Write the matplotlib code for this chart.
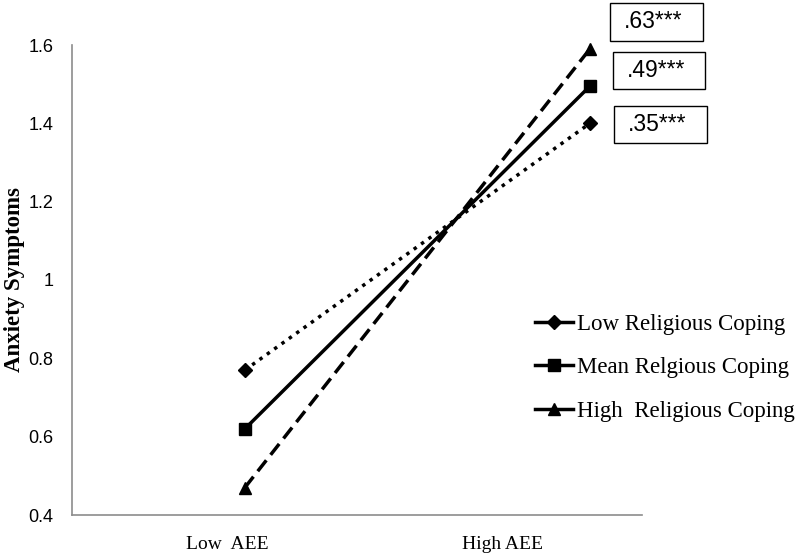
import matplotlib
matplotlib.use("Agg")
import matplotlib.pyplot as plt
from matplotlib.lines import Line2D
from matplotlib.patches import Rectangle

conditions = ["Low  AEE", "High AEE"]
series_names = ["Low Religious Coping", "Mean Relgious Coping", "High  Religious Coping"]
low_rc = [0.77, 1.40]
mean_rc = [0.62, 1.495]
high_rc = [0.47, 1.59]
slope_labels = [".63***", ".49***", ".35***"]
y_ticks = [0.4, 0.6, 0.8, 1.0, 1.2, 1.4, 1.6]
y_tick_labels = ["0.4", "0.6", "0.8", "1", "1.2", "1.4", "1.6"]

W, H = 800, 558
fig = plt.figure(figsize=(8, 5.58), dpi=100)
ax = fig.add_axes([72 / W, 1 - 515 / H, 570 / W, 470 / H])

x = [0, 1]
styles = [(low_rc, ":", "D", 7), (mean_rc, "-", "s", 9), (high_rc, "--", "^", 9)]
for vals, ls, mk, ms in styles:
    ax.plot(x, vals, color="black", linestyle=ls, linewidth=2.5, marker=mk,
            markersize=ms, markerfacecolor="black", markeredgecolor="black",
            dashes=(4, 2) if ls == "--" else ((1, 1.6) if ls == ":" else ()), clip_on=False)

ax.set_xlim(-0.501, 1.151)
ax.set_ylim(0.4, 1.6)
ax.set_yticks(y_ticks)
ax.set_yticklabels(y_tick_labels, fontfamily="Liberation Sans", fontsize=13)
ax.set_xticks([-0.052, 0.748])
ax.set_xticklabels(conditions, fontfamily="Liberation Serif", fontsize=14)
ax.tick_params(axis="y", length=0, pad=13.5)
ax.tick_params(axis="x", length=0, pad=15)
for s in ["top", "right"]:
    ax.spines[s].set_visible(False)
for s in ["left", "bottom"]:
    ax.spines[s].set_color("#8c8c8c")
    ax.spines[s].set_linewidth(1.2)

ax.set_ylabel("Anxiety Symptoms", fontfamily="Liberation Serif", fontsize=16.5,
              fontweight="bold")
ax.yaxis.set_label_coords((25 - 72) / 570, 0.5)

handles = [
    Line2D([], [], color="black", lw=2.5, marker="D", markersize=7),
    Line2D([], [], color="black", lw=2.5, marker="s", markersize=9),
    Line2D([], [], color="black", lw=2.5, marker="^", markersize=9),
]
leg = fig.legend(handles, series_names, loc="upper left",
                 bbox_to_anchor=(535 / W, 1 - 314 / H),
                 frameon=False, prop={"family": "Liberation Serif", "size": 16.5},
                 handlelength=1.66, handletextpad=0.17, labelspacing=0.97,
                 borderpad=0, borderaxespad=0)

boxes = [(610, 3, 93, 38), (613, 52, 92, 37), (614, 106, 93, 37)]
for (bx, by, bw, bh), lab in zip(boxes, slope_labels):
    fig.patches.append(Rectangle((bx / W, 1 - (by + bh) / H), bw / W, bh / H,
                                 transform=fig.transFigure, facecolor="white",
                                 edgecolor="black", linewidth=1.0))
    fig.text((bx + bw / 2 - 3) / W, 1 - (by + bh / 2) / H, lab, ha="center", va="center",
             fontfamily="Liberation Sans", fontsize=16.5)

fig.savefig("out.png", dpi=100)
